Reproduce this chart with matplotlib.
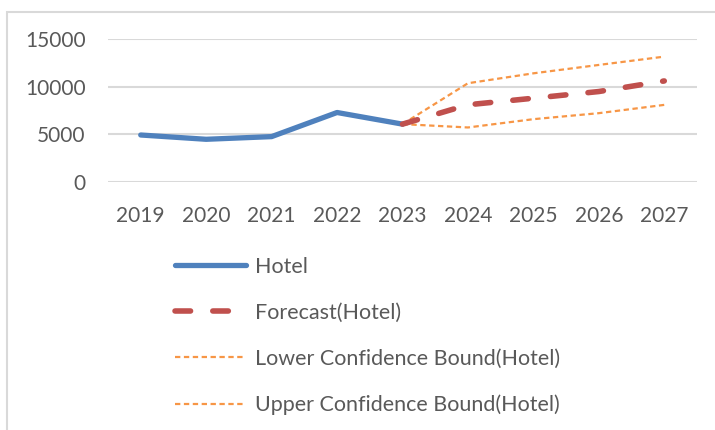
import numpy as np
import matplotlib.pyplot as plt
from matplotlib.patches import Rectangle

# data
years = ['2019', '2020', '2021', '2022', '2023', '2024', '2025', '2026', '2027']
hotel = [4930, 4480, 4760, 7290, 6070]
forecast = [6070, 8100, 8790, 9490, 10600]
lower = [6070, 5720, 6590, 7220, 8090]
upper = [6070, 10360, 11400, 12280, 13150]
yticks = [0, 5000, 10000, 15000]

TXT = '#595959'
plt.rcParams['font.family'] = ['Lato', 'DejaVu Sans']

fig = plt.figure(figsize=(7.15, 4.3), dpi=100)

# light chart-area border
fig.patches.append(Rectangle((7/715, -0.1), 1.1, 1 - 12/430 + 0.1, transform=fig.transFigure,
                             fill=False, edgecolor='#D9D9D9', linewidth=1.5))

ax = fig.add_axes([108/715, 1 - 182/430, (697 - 108)/715, (182 - 39)/430])

x_hist = np.arange(len(hotel))
x_fc = np.arange(len(hotel) - 1, len(years))

ax.plot(x_hist, hotel, color='#4F81BD', lw=3.8, solid_capstyle='round', label='Hotel', zorder=3)
ax.plot(x_fc, forecast, color='#C0504D', lw=4.0, dashes=(2.8, 4.0), dash_capstyle='round',
        label='Forecast(Hotel)', zorder=4)
ax.plot(x_fc, lower, color='#F79646', lw=1.6, dashes=(2.4, 1.6), label='Lower Confidence Bound(Hotel)', zorder=2)
ax.plot(x_fc, upper, color='#F79646', lw=1.6, dashes=(2.4, 1.6), label='Upper Confidence Bound(Hotel)', zorder=2)

ax.set_xlim(-0.5, 8.5)
ax.set_ylim(0, 15000)
ax.set_xticks(np.arange(len(years)))
ax.set_xticklabels(years)
ax.set_yticks(yticks)
ax.tick_params(length=0, labelsize=15, labelcolor=TXT)
ax.tick_params(axis='y', pad=16)
ax.tick_params(axis='x', pad=17)
ax.grid(axis='y', color='#D9D9D9', lw=1.5)
ax.set_axisbelow(True)
for s in ax.spines.values():
    s.set_visible(False)

leg = fig.legend(loc='upper left', bbox_to_anchor=(175/715, 1 - 257/430), frameon=False,
                 fontsize=15.5, handlelength=3.3, handletextpad=0.4, labelspacing=1.2,
                 borderpad=0, borderaxespad=0)
for t in leg.get_texts():
    t.set_color(TXT)

fig.savefig('out.png', dpi=100)
